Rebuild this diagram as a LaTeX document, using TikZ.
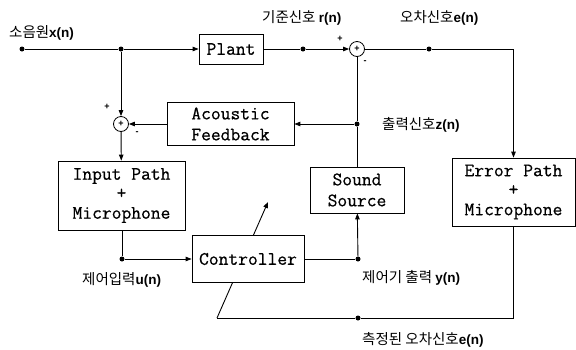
\documentclass[tikz,border=0pt]{standalone}
\usepackage{fontspec}
\setsansfont{Liberation Sans}
\newfontfamily\kr{Noto Sans CJK KR}
\newfontfamily\blkfont{Latin Modern Mono}[FakeBold=0.6]
\usepackage{tikz}
\usetikzlibrary{positioning,arrows.meta,backgrounds}

\begin{document}
\begin{tikzpicture}[x=1pt,y=-1pt,
      blk/.style={draw,line width=0.8pt,fill=white,align=center,inner sep=0pt,
                  font=\fontsize{19}{21}\selectfont\blkfont},
      sumnode/.style={circle,draw,line width=0.8pt,fill=white,minimum size=15pt,inner sep=0pt,
                  font=\fontsize{9}{9}\selectfont\sffamily\bfseries},
      dot/.style={circle,fill,minimum size=5pt,inner sep=0pt},
      sig/.style={inner sep=0pt,font=\fontsize{14.5}{16}\selectfont\kr},
      lat/.style={font=\fontsize{13.5}{15}\selectfont\sffamily\bfseries},
      sgn/.style={inner sep=0pt,font=\fontsize{9}{9}\selectfont\sffamily\bfseries},
      ln/.style={line width=0.9pt},
      arr/.style={-{Triangle[length=6pt,width=4.5pt]},line width=0.9pt}]
    \useasboundingbox (0,0) rectangle (576,349);
    % blocks
    \node[blk,minimum width=64pt,minimum height=30pt] (plant) at (231,49) {Plant};
    \node[blk,minimum width=127pt,minimum height=43pt] (fb) at (230.5,124) {Acoustic\\Feedback};
    \node[blk,minimum width=127pt,minimum height=69pt] (inp) at (121.5,195.5) {Input Path\\[-2pt]+\\[-1pt]Microphone};
    \node[blk,minimum width=112pt,minimum height=47pt] (ctrl) at (248,259) {Controller};
    \node[blk,minimum width=94pt,minimum height=46pt] (snd) at (357,190) {Sound\\Source};
    \node[blk,minimum width=123pt,minimum height=68pt] (errp) at (513.5,192) {Error Path\\[-2pt]+\\[-1pt]Microphone};
    % summing junctions
    \node[sumnode] (suma) at (121,124) {+};
    \node[sumnode] (sumb) at (357,49) {+};
    % branch points
    \node[dot] (src) at (22,49) {};
    \node[dot] (jx) at (121,49) {};
    \node[dot] (rdot) at (303,49) {};
    \node[dot] (edot) at (429,49) {};
    \node[dot] (zdot) at (357,124) {};
    \node[dot] (udot) at (122,259) {};
    \node[dot] (ydot) at (358,259) {};
    \node[dot] (mdot) at (358,318) {};
    \coordinate (mend) at (217,318);
    \coordinate (atip) at (268,202);
    % adaptation path, behind the controller
    \begin{scope}[on background layer]
      \draw[arr] (mend) -- (atip);
    \end{scope}
    % connections
    \draw[ln] (src) -- (jx);
    \draw[arr] (jx) -- (plant);
    \draw[ln] (plant) -- (rdot);
    \draw[arr] (rdot) -- (sumb);
    \draw[ln] (sumb) -- (edot);
    \draw[arr] (edot) -| (errp);
    \draw[ln] (sumb) -- (zdot);
    \draw[ln] (zdot) -- (snd);
    \draw[arr] (zdot) -- (fb);
    \draw[arr] (fb) -- (suma);
    \draw[arr] (jx) -- (suma);
    \draw[arr] (suma) -- (inp);
    \draw[ln] (inp.south -| udot) -- (udot);
    \draw[arr] (udot) -- (ctrl);
    \draw[ln] (ctrl) -- (ydot);
    \draw[arr] (ydot) -- (snd);
    \draw[ln] (errp.south) |- (mdot);
    \draw[ln] (mdot) -- (mend);
    % signs
    \node[sgn] (pa) at (107,107) {+};
    \node[sgn] (ma) at (137,133) {-};
    \node[sgn] (pb) at (340,39) {+};
    \node[sgn] (mb) at (365,62) {-};
    % signal labels
    \node[sig,anchor=west] (lx) at (9,33) {소음원{\fontsize{13.5}{15}\selectfont\sffamily\bfseries x(n)}};
    \node[sig,anchor=west] (lr) at (262,18) {기준신호 {\fontsize{13.5}{15}\selectfont\sffamily\bfseries r(n)}};
    \node[sig,anchor=west] (le) at (400,18) {오차신호{\fontsize{13.5}{15}\selectfont\sffamily\bfseries e(n)}};
    \node[sig,anchor=west] (lz) at (382,125) {출력신호{\fontsize{13.5}{15}\selectfont\sffamily\bfseries z(n)}};
    \node[sig,anchor=west] (lu) at (82,280) {제어입력{\fontsize{13.5}{15}\selectfont\sffamily\bfseries u(n)}};
    \node[sig,anchor=west] (ly) at (362,278) {제어기 출력 {\fontsize{13.5}{15}\selectfont\sffamily\bfseries y(n)}};
    \node[sig,anchor=west] (lm) at (362,340) {측정된 오차신호{\fontsize{13.5}{15}\selectfont\sffamily\bfseries e(n)}};
  \end{tikzpicture}
\end{document}
